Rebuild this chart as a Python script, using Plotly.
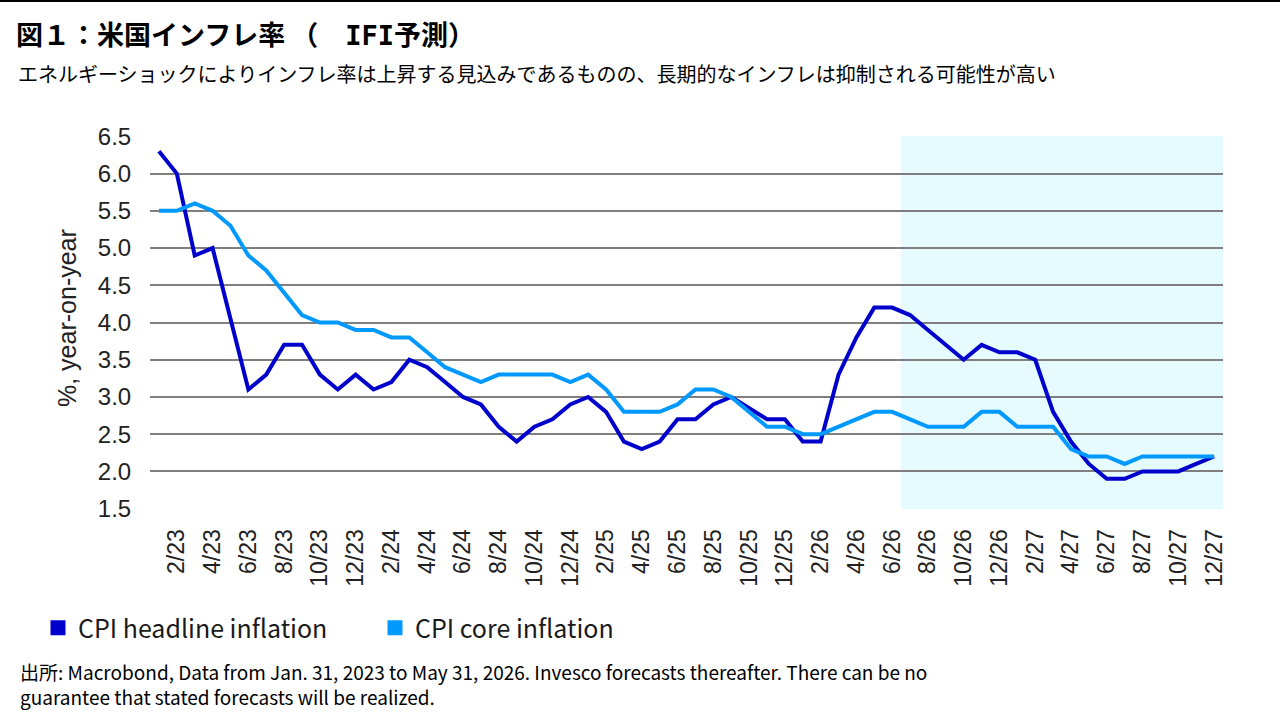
import plotly.graph_objects as go

months = [
    "1/23", "2/23", "3/23", "4/23", "5/23", "6/23", "7/23", "8/23", "9/23", "10/23", "11/23", "12/23",
    "1/24", "2/24", "3/24", "4/24", "5/24", "6/24", "7/24", "8/24", "9/24", "10/24", "11/24", "12/24",
    "1/25", "2/25", "3/25", "4/25", "5/25", "6/25", "7/25", "8/25", "9/25", "10/25", "11/25", "12/25",
    "1/26", "2/26", "3/26", "4/26", "5/26", "6/26", "7/26", "8/26", "9/26", "10/26", "11/26", "12/26",
    "1/27", "2/27", "3/27", "4/27", "5/27", "6/27", "7/27", "8/27", "9/27", "10/27", "11/27", "12/27",
]

headline = [
    6.3, 6.0, 4.9, 5.0, 4.05, 3.1, 3.3, 3.7, 3.7, 3.3, 3.1, 3.3,
    3.1, 3.2, 3.5, 3.4, 3.2, 3.0, 2.9, 2.6, 2.4, 2.6, 2.7, 2.9,
    3.0, 2.8, 2.4, 2.3, 2.4, 2.7, 2.7, 2.9, 3.0, 2.85, 2.7, 2.7,
    2.4, 2.4, 3.3, 3.8, 4.2, 4.2, 4.1, 3.9, 3.7, 3.5, 3.7, 3.6,
    3.6, 3.5, 2.8, 2.4, 2.1, 1.9, 1.9, 2.0, 2.0, 2.0, 2.1, 2.2,
]

core = [
    5.5, 5.5, 5.6, 5.5, 5.3, 4.9, 4.7, 4.4, 4.1, 4.0, 4.0, 3.9,
    3.9, 3.8, 3.8, 3.6, 3.4, 3.3, 3.2, 3.3, 3.3, 3.3, 3.3, 3.2,
    3.3, 3.1, 2.8, 2.8, 2.8, 2.9, 3.1, 3.1, 3.0, 2.8, 2.6, 2.6,
    2.5, 2.5, 2.6, 2.7, 2.8, 2.8, 2.7, 2.6, 2.6, 2.6, 2.8, 2.8,
    2.6, 2.6, 2.6, 2.3, 2.2, 2.2, 2.1, 2.2, 2.2, 2.2, 2.2, 2.2,
]

tick_labels = months[1::2]
series_names = ["CPI headline inflation", "CPI core inflation"]
colors = ["#0000CC", "#0099FF"]
forecast_start = "7/26"

title_text = ("図１：米国インフレ率 （　<span style='font-family:DejaVu Sans Mono'>IFI</span>予測）")
subtitle_text = "エネルギーショックによりインフレ率は上昇する見込みであるものの、長期的なインフレは抑制される可能性が高い"
footnote_text = ("出所: Macrobond, Data from Jan. 31, 2023 to May 31, 2026. Invesco forecasts thereafter. There can be no"
                 "<br>guarantee that stated forecasts will be realized.")
y_title = "%, year-on-year"

# page geometry
W, H = 1280, 720
L, R, T, B = 150, 1223, 136, 509
PW, PH = R - L, B - T


def px(x):
    return (x - L) / PW


def py(y):
    return (B - y) / PH


fig = go.Figure()
for name, vals, col in zip(series_names, [headline, core], colors):
    fig.add_trace(go.Scatter(x=months, y=vals, mode="lines", name=name,
                             line=dict(color=col, width=4), showlegend=False,
                             hoverinfo="x+y"))
for name, col in zip(series_names, colors):
    fig.add_trace(go.Scatter(x=[None], y=[None], mode="markers", name=name,
                             marker=dict(symbol="square", size=15, color=col)))

fs_idx = months.index(forecast_start)
fig.add_shape(type="rect", xref="x", yref="paper", x0=fs_idx - 0.5, x1=len(months) - 0.5,
              y0=0, y1=1, fillcolor="#E5FBFF", line_width=0, layer="below")
fig.add_shape(type="line", xref="paper", yref="paper", x0=px(0), x1=px(W), y0=py(1), y1=py(1),
              line=dict(color="#000000", width=2))

fig.update_layout(
    width=W, height=H,
    margin=dict(l=L, r=W - R, t=T, b=H - B, pad=0),
    paper_bgcolor="white", plot_bgcolor="rgba(0,0,0,0)",
    showlegend=True,
    legend=dict(orientation="h", x=px(38), xanchor="left", y=py(628), yanchor="middle",
                font=dict(family="Noto Sans CJK JP", size=25, color="#1a1a1a"),
                entrywidth=292, itemwidth=30, bgcolor="rgba(0,0,0,0)"),
    xaxis=dict(type="category", range=[-0.5, len(months) - 0.5],
               tickmode="array", tickvals=tick_labels, ticktext=tick_labels,
               tickangle=-90, showgrid=False, zeroline=False, showline=False,
               ticks="outside", ticklen=10, tickcolor="rgba(0,0,0,0)",
               tickfont=dict(family="Liberation Sans", size=23, color="#222222")),
    yaxis=dict(range=[1.495, 6.505], dtick=0.5, tick0=1.5, tickformat=".1f",
               showgrid=True, gridcolor="#7F7F7F", gridwidth=1.5, zeroline=False, showline=False,
               ticks="outside", ticklen=13, tickcolor="rgba(0,0,0,0)",
               tickfont=dict(family="Liberation Sans", size=24, color="#222222")),
    annotations=[
        dict(text=f"<b>{title_text}</b>", xref="paper", yref="paper", x=px(14), y=py(33),
             xanchor="left", yanchor="middle", showarrow=False,
             font=dict(family="Noto Sans CJK JP", size=27, color="#000000")),
        dict(text=subtitle_text, xref="paper", yref="paper", x=px(16), y=py(73),
             xanchor="left", yanchor="middle", showarrow=False,
             font=dict(family="Noto Sans CJK JP", size=20, color="#000000")),
        dict(text=footnote_text, xref="paper", yref="paper", x=px(18), y=py(656),
             xanchor="left", yanchor="top", align="left", showarrow=False,
             font=dict(family="Noto Sans CJK JP", size=19, color="#000000")),
        dict(text=y_title, xref="paper", yref="paper", x=px(67), y=py(318),
             xanchor="center", yanchor="middle", textangle=-90, showarrow=False,
             font=dict(family="Liberation Sans", size=25, color="#222222")),
    ],
)

fig.write_html("out.html")
